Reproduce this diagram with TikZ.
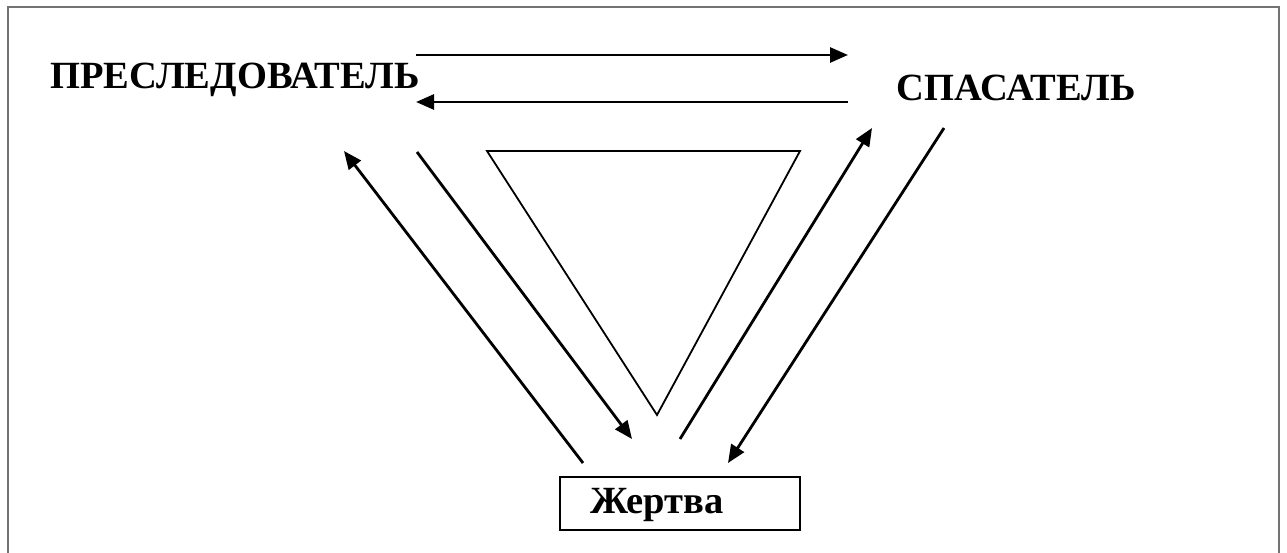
\documentclass[tikz,border=0pt]{standalone}
\usepackage{fontspec}
\setmainfont{Liberation Serif}
\usetikzlibrary{arrows.meta}
\begin{document}
\begin{tikzpicture}[x=1pt,y=-1pt,
  lbl/.style={font=\fontsize{38.5}{38.5}\selectfont\bfseries, inner sep=0pt, anchor=base},
  conn/.style={line width=2.8pt,-{Triangle[length=18pt,width=15pt]}},
  frm/.style={draw=black!55, line width=1.8pt}]
\useasboundingbox (0,0) rectangle (1287,553);
\draw[frm] (8,553) -- (8,7) -- (1279,7) -- (1279,553);
\node[lbl] (pr) at (235,89) {ПРЕСЛЕДОВАТЕЛЬ};
\node[lbl] (sp) at (1016,101) {СПАСАТЕЛЬ};
\node[draw, line width=2.5pt, minimum width=240pt, minimum height=53pt, inner sep=0pt] (zh) at (680,503.5) {};
\node[lbl] (zht) at (657,513) {Жертва};
\coordinate (a1s) at (416,55); \coordinate (a1e) at (848,55);
\coordinate (a2s) at (848,102); \coordinate (a2e) at (416,102);
\coordinate (a3s) at (583,463); \coordinate (a3e) at (344,151);
\coordinate (a4s) at (417,152); \coordinate (a4e) at (632,439);
\coordinate (a5s) at (680,439); \coordinate (a5e) at (872,128);
\coordinate (a6s) at (944,128); \coordinate (a6e) at (728,463);
\coordinate (t1) at (487,151); \coordinate (t2) at (800,151); \coordinate (t3) at (657,415);
\draw[conn] (a1s) -- (a1e);
\draw[conn] (a2s) -- (a2e);
\draw[conn] (a3s) -- (a3e);
\draw[conn] (a4s) -- (a4e);
\draw[conn] (a5s) -- (a5e);
\draw[conn] (a6s) -- (a6e);
\draw[line width=1.8pt, line join=miter] (t1) -- (t2) -- (t3) -- cycle;
\end{tikzpicture}
\end{document}
